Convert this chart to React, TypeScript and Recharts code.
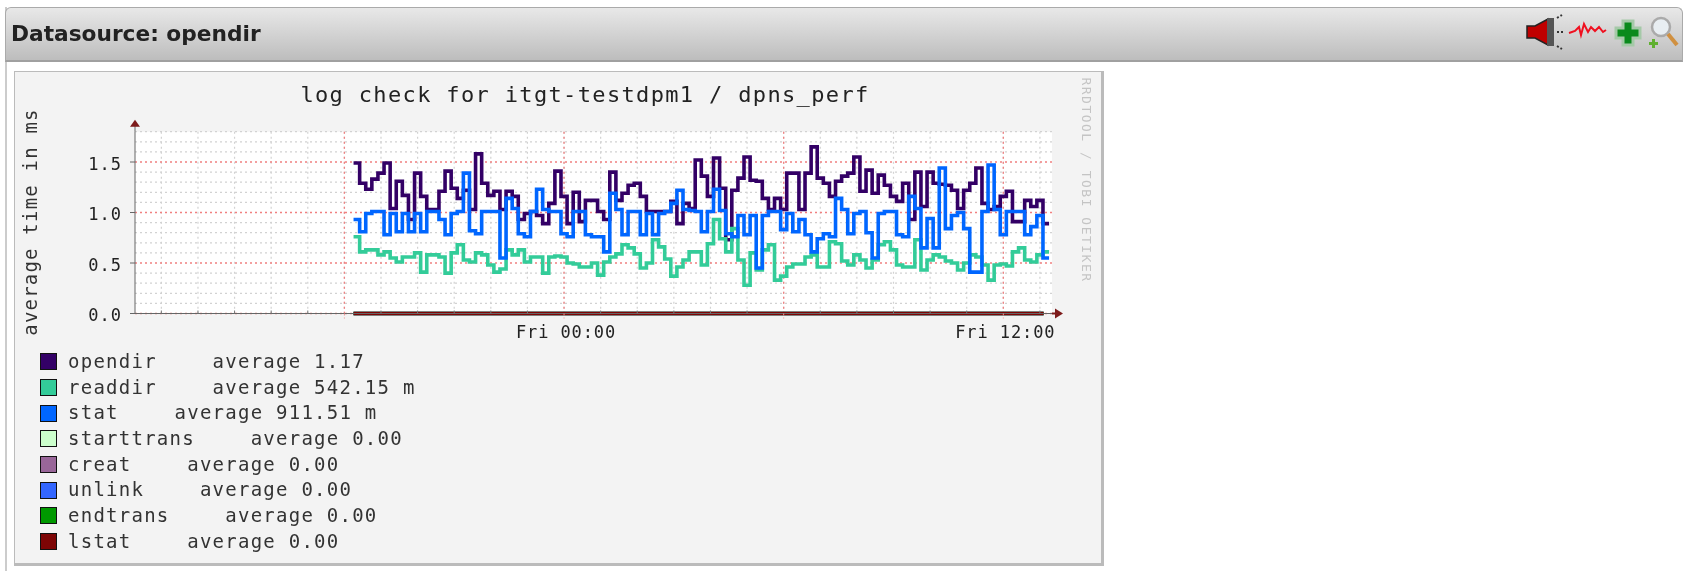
import React from 'react';
import { LineChart, Line, XAxis, YAxis, CartesianGrid, Legend, ReferenceDot } from 'recharts';

// hours relative to Fri 00:00, one sample every 10 minutes
const START_HOUR = -5.75;
const STEP_HOUR = 1 / 6;

const opendir = [1.49,1.29,1.23,1.33,1.39,1.49,1.04,1.31,1.17,0.93,1.39,1.16,1.03,1.03,1.21,1.41,1.24,1.14,1.22,1.03,1.58,1.29,1.17,1.21,1.03,1.21,1.16,0.93,0.99,
  1.01,0.97,0.89,1.09,1.41,1.16,0.89,1.20,0.91,1.12,1.12,1.01,0.93,1.40,1.12,1.19,1.27,1.29,1.16,1.01,1.01,1.01,1.01,1.11,0.89,1.09,1.04,1.52,
  1.36,1.16,1.54,1.24,0.73,1.22,1.34,1.55,1.32,1.31,1.14,1.03,1.14,1.03,1.39,1.39,1.03,1.39,1.65,1.34,1.29,1.16,1.31,1.36,1.39,1.55,1.21,1.42,
  1.19,1.37,1.27,1.16,1.11,1.29,0.93,1.40,1.06,1.40,1.29,1.28,1.27,1.22,1.04,1.22,1.29,1.44,1.09,1.03,1.06,1.16,1.21,0.91,0.91,1.12,1.06,1.12,0.89,0.89];
const readdir = [0.76,0.61,0.63,0.63,0.58,0.61,0.55,0.51,0.56,0.56,0.60,0.41,0.58,0.58,0.56,0.40,0.60,0.68,0.53,0.51,0.60,0.58,0.48,0.41,0.44,0.63,0.58,0.63,0.51,
  0.56,0.56,0.40,0.56,0.57,0.56,0.50,0.49,0.46,0.46,0.50,0.38,0.51,0.56,0.59,0.68,0.65,0.59,0.45,0.50,0.73,0.66,0.54,0.37,0.46,0.53,0.61,0.61,
  0.48,0.69,0.93,0.74,0.61,0.84,0.53,0.28,0.60,0.43,0.63,0.68,0.33,0.37,0.46,0.49,0.49,0.56,0.58,0.46,0.46,0.71,0.69,0.52,0.48,0.58,0.53,0.45,
  0.53,0.68,0.71,0.63,0.48,0.46,0.46,0.73,0.43,0.53,0.58,0.56,0.52,0.50,0.43,0.50,0.58,0.56,0.48,0.33,0.48,0.49,0.47,0.61,0.65,0.53,0.51,0.58,0.61,0.61];
const stat = [0.93,0.81,0.99,1.01,1.01,0.78,0.99,0.81,0.99,0.81,0.99,0.81,1.01,1.01,0.93,0.78,0.99,1.01,1.39,0.82,0.79,1.01,1.01,1.01,0.55,1.14,1.04,0.79,0.76,
  1.01,1.23,1.03,1.01,1.01,0.79,0.76,1.01,1.01,0.78,0.76,0.76,0.61,1.19,1.03,0.78,1.01,1.01,0.78,0.99,0.78,0.99,1.01,1.09,1.22,1.03,1.02,1.01,
  0.81,1.01,1.23,1.02,0.79,0.76,0.97,0.78,0.97,0.45,0.97,1.01,1.01,0.83,0.99,0.81,0.93,0.78,0.61,0.74,0.79,0.76,1.14,1.03,0.79,0.99,1.01,0.80,
  0.55,0.99,1.01,1.01,0.78,0.76,1.16,1.04,0.65,0.94,0.65,1.44,0.84,0.97,1.00,0.84,0.41,0.41,1.01,1.47,1.03,0.78,1.01,1.01,1.01,0.78,0.86,0.97,0.55,0.55];

const zeroHours = [-5.75, 13.1];
const zeroValues = [0, 0];

const seriesNames = ['opendir', 'readdir', 'stat', 'starttrans', 'creat', 'unlink', 'endtrans', 'lstat'];
const seriesColors = ['#330066', '#33cc99', '#0066ff', '#ccffcc', '#996699', '#3366ff', '#009900', '#7d0505'];
const seriesAverages = ['1.17', '542.15 m', '911.51 m', '0.00', '0.00', '0.00', '0.00', '0.00'];

const yMajor = [0, 0.5, 1, 1.5];
const yMinor = [0.1, 0.2, 0.3, 0.4, 0.6, 0.7, 0.8, 0.9, 1.1, 1.2, 1.3, 1.4, 1.6, 1.7, 1.8];
const xMajor = [-6, 0, 6, 12];
const xHours = [-11, -10, -9, -8, -7, -6, -5, -4, -3, -2, -1, 0, 1, 2, 3, 4, 5, 6, 7, 8, 9, 10, 11, 12, 13];
const xLabels: Record<number, string> = { 0: 'Fri 00:00', 12: 'Fri 12:00' };

const table = opendir.map((v, i) => ({ t: START_HOUR + i * STEP_HOUR, opendir: v, readdir: readdir[i], stat: stat[i] }));
const zeroTable = zeroHours.map((t, i) => ({
  t, starttrans: zeroValues[i], creat: zeroValues[i], unlink: zeroValues[i], endtrans: zeroValues[i], lstat: zeroValues[i],
}));

const MONO = '"DejaVu Sans Mono", monospace';

const HourTick = (props: any) => {
  const { x, y, payload } = props;
  const major = xMajor.includes(payload.value);
  const label = xLabels[payload.value];
  return (
    <g>
      {major
        ? <line x1={x} x2={x} y1={y} y2={y + 5} stroke="#f09090" strokeDasharray="2 2" />
        : <line x1={x} x2={x} y1={y} y2={y - 3} stroke="#777" />}
      {label && (
        <text x={x + 2} y={y + 24.5} textAnchor="middle" fontFamily={MONO} fontSize={17} letterSpacing={0.9} fill="#222">{label}</text>
      )}
    </g>
  );
};

const LegendRows = ({ payload }: any) => (
  <div style={{ fontFamily: MONO, fontSize: 19, letterSpacing: 1.25, color: '#333', whiteSpace: 'pre' }}>
    {seriesNames.map((name, i) => {
      const entry = (payload || []).find((p: any) => p.value === name);
      return (
        <div key={name} style={{ height: 25.7, lineHeight: '25.7px', display: 'flex', alignItems: 'center' }}>
          <span style={{ width: 15, height: 15, background: entry ? entry.color : seriesColors[i], border: '1px solid #111', marginRight: 11, display: 'inline-block' }} />
          <span>{name}{'    '}<span style={{ marginLeft: 5 }}>average {seriesAverages[i]}</span></span>
        </div>
      );
    })}
  </div>
);

const Arrow = ({ cx, cy, dir }: any) => dir === 'up' ? (
  <g>
    <line x1={cx} x2={cx} y1={cy} y2={cy - 6} stroke="#666" />
    <polygon points={`${cx - 5},${cy - 5} ${cx + 5},${cy - 5} ${cx},${cy - 12}`} fill="#7d1a1a" />
  </g>
) : (
  <g>
    <line x1={cx} x2={cx + 6} y1={cy} y2={cy} stroke="#7d1a1a" strokeWidth={2} />
    <polygon points={`${cx + 3},${cy - 5} ${cx + 3},${cy + 5} ${cx + 11},${cy}`} fill="#7d1a1a" />
  </g>
);

const Icons = () => (
  <svg width={170} height={45} style={{ position: 'absolute', left: 1515, top: 10 }}>
    <polygon points="12,16 20,16 33,9 33,35 20,28 12,28" fill="#c00000" stroke="#222" strokeWidth={1.5} />
    <rect x={32} y={8} width={7} height={28} fill="#555" />
    <line x1={42} y1={8} x2={47} y2={5} stroke="#333" strokeWidth={2} strokeDasharray="2 2" />
    <line x1={42} y1={22} x2={48} y2={22} stroke="#333" strokeWidth={2} strokeDasharray="2 2" />
    <line x1={42} y1={36} x2={47} y2={39} stroke="#333" strokeWidth={2} strokeDasharray="2 2" />
    <polyline points="54,23 60,21 64,17 66,25 69,14 73,22 76,17 80,21 84,17 88,22 91,20" fill="none" stroke="#f01020" strokeWidth={2} />
    <path d="M108 11 h10 v7 h7 v10 h-7 v7 h-10 v-7 h-7 v-10 h7 z" fill="#0a8a1c" stroke="#a5c9a8" strokeWidth={3} />
    <circle cx={146} cy={17} r={9} fill="#e8eef2" stroke="#aaa" strokeWidth={2.5} />
    <line x1={153} y1={24} x2={162} y2={35} stroke="#d09040" strokeWidth={4} />
    <path d="M137 29 h3 v3 h3 v3 h-3 v3 h-3 v-3 h-3 v-3 h3 z" fill="#60b030" />
  </svg>
);

export default function App() {
  return (
    <div style={{ position: 'absolute', left: 0, top: 0, width: 1685, height: 571, overflow: 'hidden', background: '#fff', filter: 'blur(0.5px)' }}>
      <div style={{ position: 'absolute', left: 5, top: 7, width: 1690, height: 570, borderLeft: '2px solid #ccc', boxSizing: 'border-box' }} />
      <div style={{
        position: 'absolute', left: 5, top: 7, width: 1678, height: 55, boxSizing: 'border-box',
        background: 'linear-gradient(#e8e8e8, #bdbdbd)', border: '1px solid #aaa', borderBottom: '2px solid #a0a0a0',
        borderRadius: '6px 6px 0 0',
      }}>
        <span style={{ position: 'absolute', left: 5, top: 13, font: 'bold 21.7px "DejaVu Sans", sans-serif', color: '#222' }}>Datasource: opendir</span>
      </div>
      <Icons />
      <div style={{
        position: 'absolute', left: 14, top: 71, width: 1090, height: 495, boxSizing: 'border-box',
        background: '#f3f3f3', border: '1px solid #bbb', borderRight: '3px solid #bbb', borderBottom: '3px solid #bbb',
      }} />
      <div style={{ position: 'absolute', left: 0, top: 0 }}>
        <LineChart
          width={1100}
          height={571}
          data={table}
          margin={{ top: 131.7, right: 48, bottom: 227.5, left: 75 }}
        >
          <CartesianGrid fill="#fff" stroke="#d2d2d2" strokeWidth={1.2} strokeDasharray="2 3" horizontalValues={yMinor} verticalValues={xHours} />
          <CartesianGrid fill="none" stroke="#f08080" strokeWidth={1.3} strokeDasharray="2 3" horizontalValues={yMajor} verticalValues={xMajor} />
          <XAxis
            type="number"
            dataKey="t"
            domain={[-11.72, 13.33]}
            ticks={xHours}
            interval={0}
            height={30}
            tickSize={0}
            tickMargin={0}
            tickLine={false}
            tick={HourTick}
            stroke="#666"
            allowDataOverflow
          />
          <YAxis
            width={60}
            domain={[0, 1.8]}
            ticks={yMajor}
            interval={0}
            tickSize={5}
            tickMargin={8}
            stroke="#666"
            tick={{ fontFamily: MONO, fontSize: 17, fill: '#222', letterSpacing: 1, dy: 1.5 }}
            tickFormatter={(v: number) => v.toFixed(1)}
          />
          {seriesNames.slice(0, 3).map((name, i) => (
            <Line key={name} type="stepAfter" dataKey={name} name={name} stroke={seriesColors[i]} strokeWidth={3.6} dot={false} isAnimationActive={false} />
          ))}
          {seriesNames.slice(3).map((name, i) => (
            <Line key={name} data={zeroTable} type="stepAfter" dataKey={name} name={name} stroke={seriesColors[i + 3]} strokeWidth={3.4} dot={false} isAnimationActive={false} />
          ))}
          <ReferenceDot x={-11.72} y={1.8} ifOverflow="visible" shape={(p: any) => <Arrow {...p} dir="up" />} />
          <ReferenceDot x={13.33} y={0} ifOverflow="visible" shape={(p: any) => <Arrow {...p} dir="right" />} />
          <Legend
            layout="horizontal"
            align="center"
            verticalAlign="middle"
            content={LegendRows}
            wrapperStyle={{ left: 40, top: 349, width: 520, height: 210 }}
          />
          <text x={585} y={102} textAnchor="middle" fontFamily={MONO} fontSize={22} letterSpacing={1.35} fill="#222">log check for itgt-testdpm1 / dpns_perf</text>
          <text transform="translate(37,222) rotate(-90)" textAnchor="middle" fontFamily={MONO} fontSize={19} letterSpacing={1.2} fill="#333">average time in ms</text>
          <text transform="translate(1082,180) rotate(90)" textAnchor="middle" fontFamily={MONO} fontSize={13} letterSpacing={1.5} fill="#c4c4c4">RRDTOOL / TOBI OETIKER</text>
        </LineChart>
      </div>
    </div>
  );
}
